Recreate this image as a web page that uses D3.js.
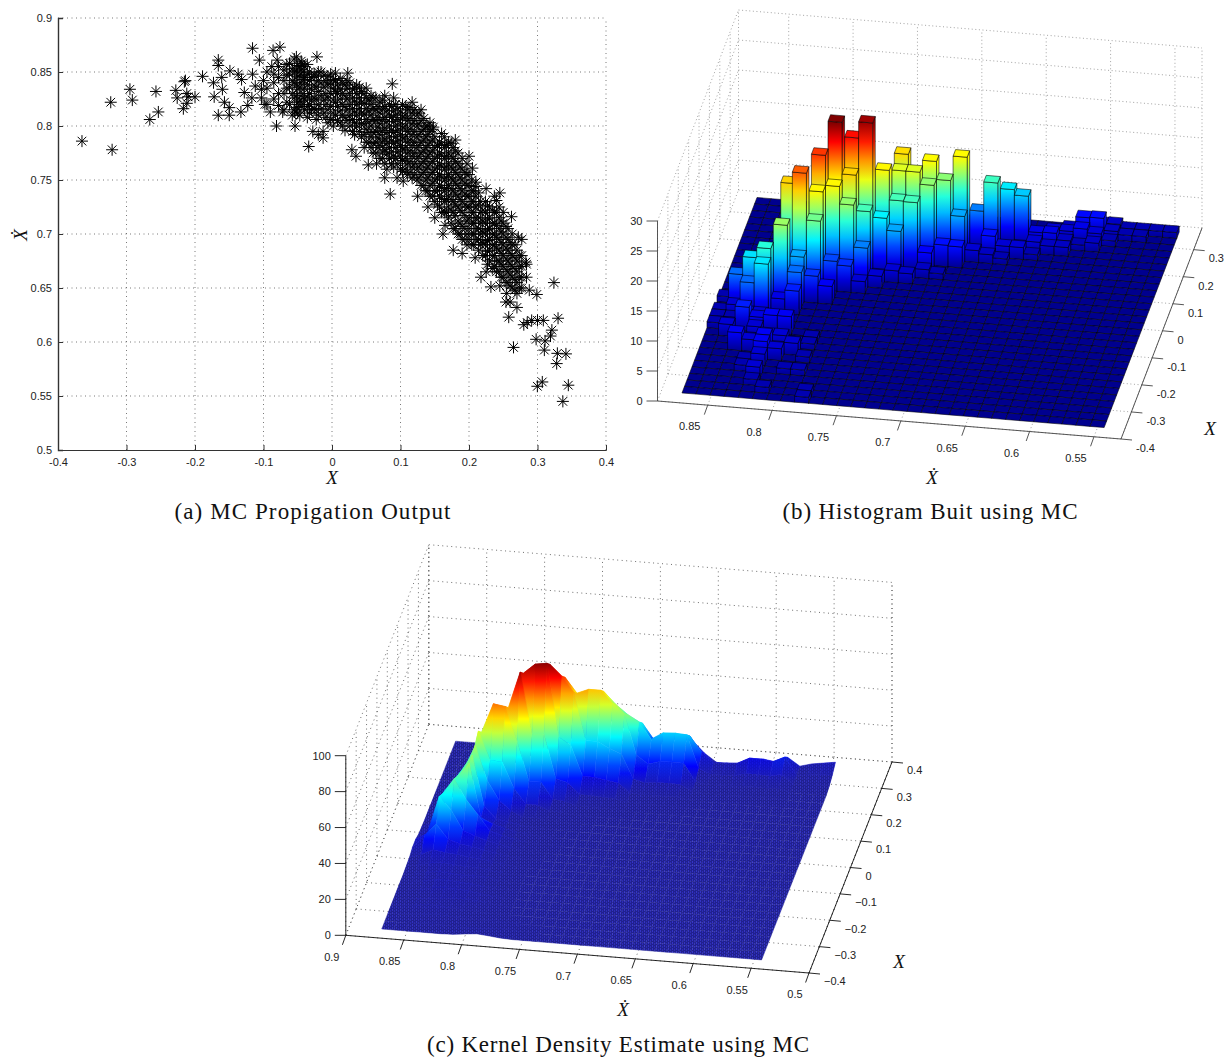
<!DOCTYPE html>
<html>
<head>
<meta charset="utf-8">
<script src="https://cdn.jsdelivr.net/npm/d3@7"></script>
<style>
	html, body { margin: 0; padding: 0; background: #fff; }
	svg { display: block; }
	text { font-family: "Liberation Sans", sans-serif; font-size: 11px; fill: #222; }
	.cap { font-family: "Liberation Serif", serif; font-size: 23px; fill: #111; }
	.lab { font-family: "Liberation Serif", serif; font-style: italic; font-size: 19px; fill: #111; }
</style>
</head>
<body>
<div id="fig"></div>
<script>
var mcPoints = [[-.365,.786],[-.323,.822],[-.321,.778],[-.295,.834],[-.2915,.824],[-.266,.806],[-.257,.832],[-.2535,.813],
	[-.228,.833],[-.226,.826],[-.2155,.841],[-.214,.842],[-.212,.83],[-.2,.827],[-.21,.827],[-.212,.821],[-.217,.816],[-.189,.846],
	[-.173,.84],[-.172,.827],[-.166,.861],[-.166,.856],[-.166,.81],[-.161,.845],[-.16,.834],[-.157,.822],[-.149,.851],[-.15,.817],
	[-.15,.81],[-.137,.848],[-.132,.843],[-.128,.831],[-.133,.813],[-.123,.819],[-.116,.872],[-.116,.848],[-.112,.837],[-.117,.826],
	[-.106,.861],[-.1,.842],[-.103,.834],[-.103,.826],[-.098,.82],[-.09,.813],[-.088,.855],[-.086,.87],[-.076,.873],[-.08,.861],
	[-.081,.8],[-.078,.819],[-.072,.813],[-.054,.8],[-.054,.813],[-.028,.795],[-.02,.792],[-.034,.781],[-.022,.864],[-.044,.858],
	[.005,.849],[.023,.849],[.088,.839],[.148,.799],[.18,.787],[-.013,.795],[-.013,.789],[.029,.778],[.053,.764],[.077,.752],
	[.085,.737],[.104,.749],[.15,.715],[.162,.7],[.177,.685],[.205,.761],[.21,.744],[.24,.731],[.272,.697],[.283,.674],[.209,.678],
	[.2175,.66],[.232,.651],[.324,.655],[.288,.648],[.299,.644],[.27,.645],[.254,.637],[.27,.632],[.258,.623],[.265,.595],[.28,.616],
	[.2915,.62],[.3085,.62],[.33,.622],[.321,.611],[.319,.6055],[.298,.6025],[.311,.601],[.31,.5925],[.329,.5895],[.3415,.589],
	[.328,.58],[.307,.563],[.2998,.559],[.345,.56],[.337,.545],[.26,.637],[.285,.618],[.3,.62],[.035,.772],[.065,.765],[.095,.752],
	[.125,.735],[.14,.725],[.165,.708],[.19,.682],[.225,.665],[.245,.652],[.255,.645],[.2,.772],[.225,.742],[.245,.738],[.262,.716],[.277,.695]];

// (a) the dense band, as columns: x, then the y values seen around it
var mcBand = [[-.095,[.82,.835,.85]],[-.085,[.825,.84,.848]],[-.078,[.83,.845,.855]],
	[-.07,[.815,.83,.842,.852]],[-.066,[.822,.835,.847,.857]],[-.062,[.82,.836,.848,.858]],[-.058,[.81,.83,.842,.853]],[-.055,[.815,.826,.84,.85,.862]],
	[-.052,[.817,.828,.838,.851,.864]],[-.05,[.812,.822,.834,.846,.856]],[-.047,[.81,.823,.836,.847,.855]],[-.045,[.818,.828,.84,.852,.86]],
	[-.042,[.82,.83,.843,.85]],[-.04,[.815,.825,.835,.845,.855]],[-.036,[.808,.818,.827,.838,.848,.857]],[-.033,[.812,.82,.83,.842,.85]],
	[-.03,[.815,.824,.834,.845]],[-.026,[.816,.826,.838,.848]],[-.023,[.806,.815,.825,.836,.846]],[-.02,[.81,.82,.832,.842,.85]],
	[-.016,[.816,.828,.84,.85]],[-.012,[.812,.824,.836,.847]],[-.009,[.808,.82,.83,.842]],[-.006,[.803,.815,.826,.838,.846]],
	[-.002,[.806,.818,.83,.84,.848]],[.002,[.8,.812,.824,.835,.843]],[.005,[.81,.822,.832,.842]],[.008,[.805,.818,.83,.838]],
	[.012,[.803,.814,.825,.834,.844]],[.015,[.8,.81,.82,.83,.84]],[.019,[.796,.808,.818,.828,.838]],[.022,[.805,.815,.825,.835,.842]],
	[.026,[.8,.81,.82,.83,.84]],[.03,[.795,.806,.816,.826,.834]],[.033,[.792,.803,.813,.823,.835]],[.036,[.8,.81,.82,.83,.838]],
	[.04,[.795,.806,.816,.826,.836]],[.043,[.79,.802,.812,.822,.832]],[.047,[.78,.792,.802,.811,.821,.83]],[.05,[.785,.797,.806,.816,.826,.835]],
	[.054,[.785,.794,.804,.814,.824]],[.057,[.78,.79,.8,.81,.82,.828]],[.06,[.775,.784,.794,.806,.816,.826]],[.064,[.775,.785,.795,.805,.815,.826]],
	[.067,[.78,.789,.799,.808,.818]],[.07,[.77,.782,.792,.802,.812,.822]],[.074,[.77,.776,.786,.796,.806,.816,.824]],[.077,[.765,.778,.788,.798,.808,.818,.828]],
	[.08,[.76,.774,.784,.794,.804,.814]],[.084,[.77,.78,.79,.8,.81,.82]],[.087,[.765,.776,.786,.796,.808,.818]],[.09,[.762,.772,.784,.794,.804,.814,.826]],
	[.093,[.77,.78,.79,.8,.81,.82]],[.096,[.765,.776,.786,.796,.806,.816]],[.1,[.76,.772,.782,.792,.802,.812]],[.103,[.758,.768,.778,.788,.798,.808,.82]],
	[.107,[.76,.77,.78,.79,.8,.81,.818]],[.11,[.755,.765,.775,.785,.795,.805,.815]],[.114,[.757,.767,.777,.787,.797,.807,.817]],
	[.117,[.752,.762,.772,.782,.792,.802,.812,.822]],[.12,[.755,.765,.775,.785,.795,.805,.815]],[.124,[.75,.76,.77,.78,.79,.8,.81]],
	[.127,[.752,.762,.772,.782,.792,.802,.812]],[.13,[.745,.755,.765,.775,.785,.795,.805,.815]],[.134,[.745,.757,.767,.777,.787,.797,.807]],
	[.137,[.74,.75,.76,.77,.78,.79,.8]],[.14,[.74,.752,.762,.772,.782,.792,.8]],[.143,[.735,.745,.755,.765,.775,.785,.795,.803]],
	[.147,[.735,.747,.757,.767,.777,.787,.797]],[.15,[.73,.74,.75,.76,.77,.78,.79]],[.154,[.727,.74,.752,.762,.772,.782]],[.157,[.725,.735,.745,.755,.765,.775,.785]],
	[.16,[.72,.733,.743,.753,.763,.773,.783,.793]],[.164,[.72,.73,.74,.75,.76,.77,.78,.79]],[.167,[.72,.732,.742,.752,.762,.772,.782]],
	[.17,[.715,.725,.735,.745,.755,.765,.775,.785]],[.174,[.71,.722,.732,.742,.752,.762,.772,.784]],[.177,[.705,.72,.73,.74,.75,.76,.77,.78]],
	[.18,[.705,.717,.727,.737,.747,.757,.767,.777]],[.184,[.7,.712,.725,.735,.745,.755,.765,.775]],[.187,[.7,.71,.722,.732,.742,.752,.762]],
	[.19,[.695,.707,.72,.73,.74,.75,.76,.77]],[.194,[.695,.705,.717,.727,.737,.747,.757]],[.197,[.69,.7,.712,.725,.735,.745,.755,.765]],
	[.2,[.695,.705,.715,.725,.735,.745,.755]],[.204,[.69,.7,.71,.72,.73,.74,.75]],[.207,[.69,.7,.71,.72,.73,.74]],[.21,[.695,.705,.715,.725,.735,.748]],
	[.214,[.685,.695,.705,.715,.727,.738]],[.217,[.69,.7,.71,.72,.73]],[.22,[.68,.692,.702,.712,.722]],[.224,[.68,.69,.7,.71,.72,.73]],
	[.227,[.672,.684,.694,.704,.714,.726]],[.23,[.675,.685,.695,.705,.715,.725]],[.234,[.668,.68,.69,.7,.71,.722]],[.237,[.67,.68,.69,.7,.71,.72,.735]],
	[.24,[.665,.675,.687,.697,.708,.72]],[.244,[.665,.675,.685,.695,.705,.715,.725]],[.247,[.66,.672,.682,.692,.702,.712]],[.25,[.66,.67,.68,.69,.7,.71,.72]],
	[.254,[.655,.667,.677,.687,.697,.707]],[.257,[.655,.665,.675,.685,.695,.705]],[.26,[.652,.662,.672,.682,.692]],[.263,[.65,.66,.67,.68,.69,.7]],
	[.267,[.648,.658,.668,.678,.69]],[.27,[.655,.665,.675,.685]],[.274,[.65,.66,.67,.68]],[.277,[.65,.66,.67,.68]],[.284,[.66,.672]]];

var scatterXTicks = [-.4,-.3,-.2,-.1,0,.1,.2,.3,.4];
var scatterYTicks = [.5,.55,.6,.65,.7,.75,.8,.85,.9];

// (b) histogram: [xdot bin, x bin, count], every other bin of the 30x30 grid is empty
var histBins = 30;
var histCells = [[7,19,26],[9,20,25.2],[8,20,22.5],[6,18,21.4],[5,16,20.4],[4,17,17.4],[11,23,17.1],[13,23,16.3],[15,24,16.3],
	[10,21,16.4],[11,22,15.4],[12,22,15.4],[14,23,13.3],[13,22,13.4],[8,19,17.4],[7,18,16.4],[6,17,16.4],[8,18,13.5],[6,16,12.6],
	[4,14,13.7],[11,21,11.5],[12,21,11.4],[9,19,11.5],[10,20,9.5],[11,20,7.5],[15,23,7.5],[16,25,6.4],[17,25,11.3],[18,26,9.3],
	[19,26,8.4],[9,18,6.5],[17,24,3.5],[14,22,3.6],[15,22,3.5],[20,26,2.5],[21,26,2.6],[22,26,1.5],[23,28,3.4],[24,28,3.5],[23,27,2.6],
	[25,29,1.6],[28,29,1],[29,29,1],[3,13,10.7],[2,13,9],[3,12,9.2],[1,13,6],[2,12,5.9],[5,15,7.5],[5,14,6],[6,15,4.5],[7,17,5],[8,17,4.4],
	[7,15,3],[4,13,2.5],[5,13,4],[2,10,4],[5,10,3],[1,9,2],[2,7,3],[4,7,3],[3,10,2.5],[4,10,3],[10,19,1],[12,19,1.7],[13,21,3.2],
	[16,23,2],[18,24,2],[19,25,1],[0,10,1],[0,11,1],[0,12,1],[0,14,1],[1,10,1],[1,11,1],[1,12,2],[3,11,2],[2,11,2],[8,0,1],[5,1,1],[8,1,1],
	[4,2,1],[4,3,2],[3,4,1],[6,4,1],[7,4,1],[4,5,2],[3,5,1],[4,6,3],[5,6,2],[7,6,1],[3,7,2],[6,7,2],[5,7,1],[3,8,1],[4,8,2],[5,8,2],[6,8,1],
	[7,8,1],[3,9,2],[7,9,1],[9,17,2],[10,18,2],[11,19,2],[13,20,1.5],[14,20,1],[17,23,1.5],[18,23,1],[19,24,2],[20,25,2],[20,24,1],[21,25,1.5],
	[22,25,1.5],[22,27,2],[21,27,2],[24,27,2],[25,28,1.5],[23,26,1],[24,26,1.5],[25,27,1],[26,28,1],[27,28,1],[26,29,1],[27,29,1],[24,29,1.5],
	[23,29,1.5],[22,28,1.5]];
var histColorMax = 26;
var histXdTicks = [.85,.8,.75,.7,.65,.6,.55];
var histXTicks = [-.4,-.3,-.2,-.1,0,.1,.2,.3];
var histZTicks = [0,5,10,15,20,25,30];

// (c) kernel density, one row per x step, starting at column kdeStart of 33, zero elsewhere
var kdeCols = 33;
var kdeStart = [6,3,2,1,2,1,1,1,0,0,0,0,0,0,1,1,1,1,2,3,4,5,7,8,10];
var kdeRows = [
	[.3,1,1.6,1,.3],
	[.3,.6,.6,.3,0,.3,.8,1,.6,.3],
	[.3,1,1.6,1.3,.6,.3,.3,.6,.3],
	[.3,1,2,2,1.3,1,.6,.3],
	[.6,1.3,2,2.4,2.4,2,1,.3],
	[.3,1.3,2.6,3.2,3.2,2.6,1.6,.8,.3],
	[.6,1.6,3,3.2,2.6,2,1.3,.6,.3],
	[.6,2,3,2.6,2,2.4,2,1,.3],
	[.3,1.3,3,3.6,3.2,2.6,2.6,1.6,.6,.3],
	[.6,3,6,5,4.6,3.6,3,2,1,.3],
	[2,9,16,8,6,5,3.6,2.4,1.2,.5,.2],
	[2,6,27,20,9,6.5,4.5,3,1.6,.6,.3],
	[.6,5,24,33,22,14,5.5,3.5,2,1,.5,.2],
	[.3,3,21.7,30,38,8,5,3,1.6,.8,.3],
	[1,18.5,28,38,10,3.6,2.5,1.2,.5,.2],
	[.5,12,24.7,39,20,9.5,4.1,1.4,1.4,.6,.3,.1],
	[.3,6,15,42.6,27,26.5,12.3,4.1,4.2,1.2,1,.3,.1],
	[.5,3.8,12.3,37.6,54,53,34.2,12.4,12.6,3.5,3,1,1,.8,.7,.2],
	[1,6.9,28.4,49,48,68.4,34.5,35,10.6,9.1,2.9,2.9,2.5,2.2,.6,.4,.5,.5,.5],
	[3,15.8,38.7,37.8,63.4,69,70,29.5,25.4,8.7,8.7,7.5,6.6,1.7,1.1,1.4,1.4,1.4,.2],
	[6.4,21.5,21,51.7,64,65,59,50.7,24.2,24.2,20.9,18.4,5,3.4,4.1,4.2,4.1,.6,.3,.3,.3,.5,.5,.4,.6],
	[8,8,28.7,52,53,54,45.7,48.4,48.4,41.8,36.7,14,9.5,11.5,11.7,11.5,1.7,.8,.8,.9,1.5,1.5,1.4,1.9],
	[10,29,29.5,43,35.7,43.4,43.4,36.8,31.7,28,19,23,23.4,23,4.8,2.3,2.3,2.5,4.2,4.2,3.8,5.3,.3,.6,.8,1],
	[10,10.5,24,20,33.7,33.7,27.7,23,23,14,18,18.4,18,9.5,4.5,4.5,5,8.3,8.3,7.5,10.6,.9,1.8,2.3,2.8],
	[9,7.6,18.7,18.7,15.4,12.8,15.3,7.2,10.8,11,10.8,4.5,0,0,.5,3.9,3.9,3,6,1.7,3.5,4.5,5.5]
];
var kdeColorMax = 71;
var kdeXdTicks = [.9,.85,.8,.75,.7,.65,.6,.55,.5];
var kdeXTicks = [-.4,-.3,-.2,-.1,0,.1,.2,.3,.4];
var kdeZTicks = [0,20,40,60,80,100];

var svg = d3.select("#fig").append("svg").attr("width", 1226).attr("height", 1057);
var defs = svg.append("defs");

// matlab jet
var jet = d3.scaleLinear()
	.domain([0, .125, .375, .625, .875, 1])
	.range(["#00008f", "#0000ff", "#00ffff", "#ffff00", "#ff0000", "#800000"])
	.clamp(true);
// same ramp, low end lifted where the dense mesh washes it out
var jetKde = jet.copy().range(["#24249a", "#0000ff", "#00ffff", "#ffff00", "#ff0000", "#800000"]);

var gradId = 0;
function zGradient(y0, y1, z0, z1, cmax, ramp) {
	// vertical ramp on screen between the low and the high z
	var id = "g" + (gradId++);
	var gr = defs.append("linearGradient").attr("id", id)
		.attr("gradientUnits", "userSpaceOnUse")
		.attr("x1", 0).attr("x2", 0).attr("y1", y0).attr("y2", y1);
	var n = Math.max(1, Math.ceil((z1 - z0) / cmax * 8));
	d3.range(n + 1).forEach(function (k) {
		var t = k / n;
		gr.append("stop").attr("offset", t).attr("stop-color", ramp((z0 + (z1 - z0) * t) / cmax));
	});
	return "url(#" + id + ")";
}

function poly(pts) { return "M" + pts.map(function (p) { return p[0].toFixed(2) + "," + p[1].toFixed(2); }).join("L") + "Z"; }

function fmt(v) { return String(+v.toFixed(2)); }

function caption(label, cx, y, len) {
	svg.append("text").attr("class", "cap").attr("x", cx).attr("y", y)
		.attr("text-anchor", "middle").attr("textLength", len).attr("lengthAdjust", "spacing").text(label);
}

function axisLabel(label, x, y, rot) {
	var t = svg.append("text").attr("class", "lab").attr("text-anchor", "middle").text(label);
	if (rot) t.attr("transform", "translate(" + x + "," + y + ") rotate(" + rot + ")");
	else t.attr("x", x).attr("y", y);
}

// ---------- (a) scatter
function drawScatter() {
	var x = d3.scaleLinear().domain([-.4, .4]).range([58, 606]);
	var y = d3.scaleLinear().domain([.5, .9]).range([450, 18]);
	var g = svg.append("g");

	scatterXTicks.slice(1).forEach(function (t) {
		g.append("line").attr("x1", x(t)).attr("x2", x(t)).attr("y1", 450).attr("y2", 18)
			.attr("stroke", "#555").attr("stroke-width", .8).attr("stroke-dasharray", "1 3.5");
	});
	scatterYTicks.slice(1).forEach(function (t) {
		g.append("line").attr("x1", 58).attr("x2", 606).attr("y1", y(t)).attr("y2", y(t))
			.attr("stroke", "#555").attr("stroke-width", .8).attr("stroke-dasharray", "1 3.5");
	});

	var axB = d3.axisBottom(x).tickValues(scatterXTicks).tickSize(-5).tickPadding(8).tickFormat(fmt);
	var axL = d3.axisLeft(y).tickValues(scatterYTicks).tickSize(-5).tickPadding(6).tickFormat(fmt);
	var gb = g.append("g").attr("transform", "translate(0,450)").call(axB);
	var gl = g.append("g").attr("transform", "translate(58,0)").call(axL);
	gb.selectAll("text").style("font-size", "11px").style("font-family", "Liberation Sans");
	gl.selectAll("text").style("font-size", "11px").style("font-family", "Liberation Sans");
	gb.select(".domain").attr("stroke", "#333");
	gl.select(".domain").attr("stroke", "#333").attr("stroke-width", 1.4);
	gb.selectAll("line").attr("stroke", "#333");
	gl.selectAll("line").attr("stroke", "#333");

	var asterisk = {
		draw: function (ctx, size) {
			var r = Math.sqrt(size), d = r * .72;
			ctx.moveTo(-r, 0); ctx.lineTo(r, 0);
			ctx.moveTo(0, -r); ctx.lineTo(0, r);
			ctx.moveTo(-d, -d); ctx.lineTo(d, d);
			ctx.moveTo(-d, d); ctx.lineTo(d, -d);
		}
	};
	var mark = d3.symbol().type(asterisk).size(36)();
	var pts = mcPoints.slice();
	mcBand.forEach(function (c) { c[1].forEach(function (v) { pts.push([c[0], v]); }); });
	g.selectAll(".mc").data(pts).enter().append("path")
		.attr("class", "mc")
		.attr("transform", function (d) { return "translate(" + x(d[0]) + "," + y(d[1]) + ")"; })
		.attr("d", mark)
		.attr("fill", "none").attr("stroke", "#000").attr("stroke-width", 1);

	axisLabel("X", 332, 484);
	axisLabel("Ẋ", 27, 235, -90);
	caption("(a)  MC Propigation Output", 312.5, 519, 276);
}

// ---------- shared 3d box
function makeView(o) {
	var u = d3.scaleLinear().domain(o.xd).range([0, 1]);
	var v = d3.scaleLinear().domain(o.x).range([0, 1]);
	var h = d3.scaleLinear().domain(o.z).range([0, o.zPx]);
	return function (xd, x, z) {
		var a = u(xd), b = v(x);
		return [o.origin[0] + a * o.uVec[0] + b * o.vVec[0], o.origin[1] + a * o.uVec[1] + b * o.vVec[1] - h(z)];
	};
}

function drawBox(o, view, xdT, xT, zT, gridStyle) {
	var g = svg.append("g");
	var xd0 = o.xd[0], xd1 = o.xd[1], x0 = o.x[0], x1 = o.x[1], zTop = o.z[1];
	var seg = function (a, b, col, w, dash) {
		g.append("line").attr("x1", a[0]).attr("y1", a[1]).attr("x2", b[0]).attr("y2", b[1])
			.attr("stroke", col).attr("stroke-width", w).attr("stroke-dasharray", dash || null);
	};
	var grid = function (a, b) { seg(a, b, gridStyle.color, gridStyle.width, gridStyle.dash); };

	xdT.forEach(function (t) {
		grid(view(t, x1, 0), view(t, x1, zTop));
		grid(view(t, x0, 0), view(t, x1, 0));
	});
	xT.forEach(function (t) {
		grid(view(xd0, t, 0), view(xd0, t, zTop));
		grid(view(xd0, t, 0), view(xd1, t, 0));
	});
	zT.forEach(function (t) {
		grid(view(xd0, x1, t), view(xd1, x1, t));
		grid(view(xd0, x0, t), view(xd0, x1, t));
	});
	grid(view(xd1, x0, 0), view(xd1, x1, 0));
	grid(view(xd1, x1, 0), view(xd1, x1, zTop));
	grid(view(xd0, x1, 0), view(xd0, x1, zTop));
	return g;
}

function drawAxes(o, view, xdT, xT, zT, axisCol, negative, xdOff, xOff) {
	var g = svg.append("g");
	var line = function (a, b) {
		g.append("line").attr("x1", a[0]).attr("y1", a[1]).attr("x2", b[0]).attr("y2", b[1])
			.attr("stroke", axisCol).attr("stroke-width", .9);
	};
	var label = function (x, y, anchor, v) {
		var s = fmt(v);
		if (negative) s = s.replace("-", "\u2212");
		g.append("text").attr("x", x).attr("y", y).attr("text-anchor", anchor).attr("dy", ".35em").text(s);
	};
	var xd0 = o.xd[0], xd1 = o.xd[1], x0 = o.x[0], x1 = o.x[1];

	line(view(xd0, x0, 0), view(xd1, x0, 0));
	line(view(xd1, x0, 0), view(xd1, x1, 0));
	line(view(xd0, x0, 0), view(xd0, x0, o.z[1]));

	xdT.forEach(function (t) {
		var p = view(t, x0, 0);
		line(p, [p[0] - 3.4, p[1] + 9.5]);
		label(p[0] + xdOff[0], p[1] + xdOff[1], "middle", t);
	});
	xT.forEach(function (t) {
		var p = view(xd1, t, 0);
		line(p, [p[0] + 11, p[1] + 1]);
		label(p[0] + xOff[0], p[1] + xOff[1], "start", t);
	});
	zT.forEach(function (t) {
		var p = view(xd0, x0, t);
		line(p, [p[0] - 11, p[1]]);
		label(p[0] - 15, p[1], "end", t);
	});
}

// ---------- (b) histogram
function drawHistogram() {
	var o = { xd: [.889, .529], x: [-.4, .38], z: [0, 30], zPx: 180, origin: [657.5, 401], uVec: [463.5, 38], vVec: [81, -211] };
	var view = makeView(o);
	drawBox(o, view, histXdTicks, histXTicks, histZTicks, { color: "#8c8c8c", width: .8, dash: "1 2.6" });

	var binXd = d3.scaleLinear().domain([0, histBins]).range([.8729, .545]);
	var binX = d3.scaleLinear().domain([0, histBins]).range([-.364, .3586]);
	var counts = d3.index(histCells, function (d) { return d[0] + "_" + d[1]; });

	var g = svg.append("g").attr("stroke", "#000").attr("stroke-width", .55).attr("stroke-linejoin", "round");
	// back rows first, left to right, nearest corner is bottom right
	for (var j = histBins - 1; j >= 0; j--) {
		for (var i = 0; i < histBins; i++) {
			var c = counts.get(i + "_" + j);
			var h = c ? c[2] : 0;
			var a = binXd(i), b = binXd(i + 1), p = binX(j), q = binX(j + 1);
			if (h > 0) {
				var base = view(b, p, 0), top = view(b, p, h);
				var side = zGradient(base[1], top[1], 0, h, histColorMax, jet);
				g.append("path").attr("d", poly([view(b, p, 0), view(b, q, 0), view(b, q, h), view(b, p, h)])).attr("fill", side);
				g.append("path").attr("d", poly([view(a, p, 0), view(b, p, 0), view(b, p, h), view(a, p, h)])).attr("fill", side);
			}
			g.append("path").attr("d", poly([view(a, p, h), view(b, p, h), view(b, q, h), view(a, q, h)]))
				.attr("fill", jet(h / histColorMax));
		}
	}

	drawAxes(o, view, histXdTicks, histXTicks, histZTicks, "#444", false, [-18, 21.5], [15, 9]);
	axisLabel("X", 1210, 435);
	axisLabel("Ẋ", 932, 484);
	caption("(b)  Histogram Buit using MC", 930, 519, 295);
}

// ---------- (c) kernel density surface
function drawKde() {
	var o = { xd: [.9, .5], x: [-.4, .4], z: [0, 100], zPx: 179.6, origin: [345.8, 935.3], uVec: [463.2, 37.7], vVec: [83, -211] };
	var view = makeView(o);
	drawBox(o, view, kdeXdTicks, kdeXTicks, kdeZTicks, { color: "#555", width: .85, dash: "1 3.5" });

	// dense mesh lines come out as a dither where the cells are small
	var pat = defs.append("pattern").attr("id", "mesh").attr("patternUnits", "userSpaceOnUse").attr("width", 4).attr("height", 3);
	pat.append("rect").attr("width", 4).attr("height", 3).attr("fill", "#20208e");
	pat.append("rect").attr("x", 0).attr("y", 0).attr("width", 1).attr("height", 2).attr("fill", "#3434c4");
	pat.append("rect").attr("x", 2).attr("y", 1).attr("width", 1).attr("height", 2).attr("fill", "#2c2cb4");

	var colXd = d3.scaleLinear().domain([0, kdeCols - 1]).range([.872, .544]);
	var rowX = d3.scaleLinear().domain([0, kdeRows.length - 1]).range([-.366, .346]);
	var zAt = function (r, c) {
		if (r < 0 || r >= kdeRows.length) return 0;
		var v = kdeRows[r][c - kdeStart[r]];
		return v === undefined ? 0 : v;
	};

	var g = svg.append("g");
	for (var j = kdeRows.length - 2; j >= 0; j--) {
		for (var i = 0; i < kdeCols - 1; i++) {
			var zs = [zAt(j, i), zAt(j, i + 1), zAt(j + 1, i + 1), zAt(j + 1, i)];
			var pts = [view(colXd(i), rowX(j), zs[0]), view(colXd(i + 1), rowX(j), zs[1]),
				view(colXd(i + 1), rowX(j + 1), zs[2]), view(colXd(i), rowX(j + 1), zs[3])];
			var zMax = d3.max(zs), zMin = d3.min(zs), zMean = d3.mean(zs);
			if (zMax <= .05) {
				g.append("path").attr("d", poly(pts)).attr("fill", "url(#mesh)").attr("stroke", "url(#mesh)").attr("stroke-width", .5);
				continue;
			}
			var ys = pts.map(function (p) { return p[1]; });
			var fill = zGradient(d3.max(ys), d3.min(ys), zMin, zMax, kdeColorMax, jetKde);
			g.append("path").attr("d", poly(pts)).attr("fill", fill).attr("stroke", fill).attr("stroke-width", .5);
			if (zMean < 9) {
				g.append("path").attr("d", poly(pts)).attr("fill", "url(#mesh)").attr("opacity", 1 - zMean / 9);
			}
		}
	}

	drawAxes(o, view, kdeXdTicks, kdeXTicks, kdeZTicks, "#111", true, [-14, 21.5], [15, 8.5]);
	axisLabel("X", 899, 968);
	axisLabel("Ẋ", 623, 1016);
	caption("(c)  Kernel Density Estimate using MC", 618, 1052, 382);
}

drawScatter();
drawHistogram();
drawKde();
</script>
</body>
</html>
